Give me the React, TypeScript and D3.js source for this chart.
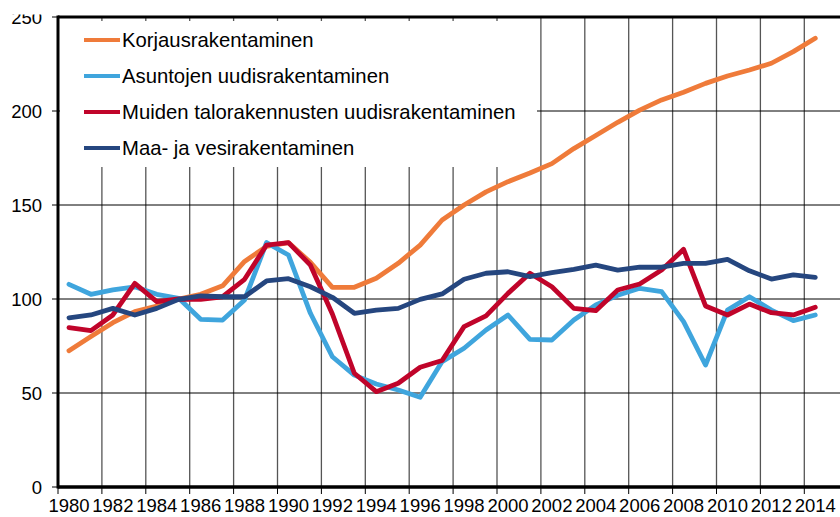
import { useEffect, useRef } from "react"
import * as d3 from "d3"

// vuodet 1980-2014
const years = d3.range(1980, 2015)

const korjaus = [72.5, 80, 87.4, 93.3, 96.3, 100, 102.5, 107, 120, 128, 130,
  119.5, 106.2, 106.2, 111, 119, 128.7, 142, 150, 157, 162.4,
  167, 172, 180, 187, 194, 200.5, 205.9, 210, 214.7, 218.6, 221.8, 225.4, 231.6, 238.7]

const asunnot = [107.8, 102.5, 104.8, 106.5, 102.5, 100.4, 89.2, 88.8, 99.5, 130, 123.4,
  92.4, 69.3, 59.5, 54.8, 51.6, 47.7, 66.7, 73.8, 83.5, 91.5,
  78.5, 78.2, 88.8, 96.8, 102, 105.7, 103.9, 88, 64.9, 94.1, 101.2, 94.1, 88.5, 91.5]

const muut = [84.8, 83.2, 91.5, 108.3, 98.6, 100, 99.8, 101.2, 110.5, 128.7, 130,
  118, 92, 60.5, 50.7, 55.2, 63.7, 67.3, 85.3, 91, 103,
  113.7, 106.5, 95, 93.8, 104.8, 108, 115.4, 126.4, 96.3, 91.5, 97.3, 92.7, 91.5, 95.6]

const maaVesi = [90, 91.5, 95, 91.5, 95, 99.8, 101.6, 101.2, 101.2, 109.6, 110.8,
  106.5, 100.9, 92.4, 94.1, 95, 99.8, 102.7, 110.5, 113.7, 114.5,
  111.9, 114, 115.8, 118, 115.4, 116.9, 116.9, 119, 119, 121.1, 115, 110.6, 112.8, 111.5]

const seriesNames = [
  "Korjausrakentaminen",
  "Asuntojen uudisrakentaminen",
  "Muiden talorakennusten uudisrakentaminen",
  "Maa- ja vesirakentaminen",
]
const seriesColors = ["#ef7b3a", "#3fa5dd", "#c0042a", "#25467f"]
const seriesValues = [korjaus, asunnot, muut, maaVesi]

const yTicks = [0, 50, 100, 150, 200, 250]
const xLabelYears = d3.range(1980, 2015, 2)

export default function App() {
  const svgRef = useRef<SVGSVGElement>(null)

  useEffect(() => {
    const svg = d3.select(svgRef.current)
    const width = 840
    const left = 58
    const top = 17
    const bottom = 487
    const font = "'Liberation Sans', Arial, sans-serif"

    svg.selectAll("*").remove()

    const x = d3.scaleLinear().domain([1980, 2016]).range([left, left + 36 * 21.95])
    const y = d3.scaleLinear().domain([0, 250]).range([bottom, top])

    // ruudukko
    svg.append("g")
      .selectAll("line")
      .data(d3.range(1982, 2017, 2))
      .join("line")
      .attr("x1", d => x(d)).attr("x2", d => x(d))
      .attr("y1", top).attr("y2", bottom)
      .attr("stroke", "#555")
      .attr("stroke-width", 1.3)

    svg.append("g")
      .selectAll("line")
      .data([50, 100, 150, 200])
      .join("line")
      .attr("x1", left).attr("x2", width)
      .attr("y1", d => y(d)).attr("y2", d => y(d))
      .attr("stroke", "#000")
      .attr("stroke-width", 1)

    // selitteen tausta
    svg.append("rect")
      .attr("x", left + 2).attr("y", top + 4)
      .attr("width", 477).attr("height", 146)
      .attr("fill", "#fff")

    // viivat
    const line = d3.line<number>()
      .x((_, i) => x(years[i] + 0.5))
      .y(d => y(d))

    seriesValues.forEach((vals, i) => {
      svg.append("path")
        .datum(vals)
        .attr("fill", "none")
        .attr("stroke", seriesColors[i])
        .attr("stroke-width", 4.8)
        .attr("stroke-linejoin", "round")
        .attr("stroke-linecap", "round")
        .attr("d", line)
    })

    // selite
    const legend = svg.append("g")
    seriesNames.forEach((name, i) => {
      const ly = 40 + i * 36
      legend.append("line")
        .attr("x1", 84).attr("x2", 120)
        .attr("y1", ly).attr("y2", ly)
        .attr("stroke", seriesColors[i])
        .attr("stroke-width", 4)
      legend.append("text")
        .attr("x", 122).attr("y", ly + 7)
        .attr("font-family", font)
        .attr("font-size", 20.3)
        .attr("fill", "#000")
        .text(name)
    })

    // akselit
    svg.append("g")
      .selectAll("line")
      .data(yTicks)
      .join("line")
      .attr("x1", left - 6).attr("x2", left)
      .attr("y1", d => y(d)).attr("y2", d => y(d))
      .attr("stroke", "#000")

    svg.append("g")
      .selectAll("text")
      .data(yTicks)
      .join("text")
      .attr("x", 42)
      .attr("y", d => y(d) + 6.5)
      .attr("text-anchor", "end")
      .attr("font-family", font)
      .attr("font-size", 18.5)
      .text(d => d)

    svg.append("g")
      .selectAll("line")
      .data(xLabelYears)
      .join("line")
      .attr("x1", d => x(d)).attr("x2", d => x(d))
      .attr("y1", bottom).attr("y2", bottom + 7)
      .attr("stroke", "#000")

    svg.append("g")
      .selectAll("text")
      .data(xLabelYears)
      .join("text")
      .attr("x", d => x(d + 0.5))
      .attr("y", 512)
      .attr("text-anchor", "middle")
      .attr("font-family", font)
      .attr("font-size", 18.5)
      .text(d => d)

    svg.append("line")
      .attr("x1", left).attr("x2", left)
      .attr("y1", top - 1.5).attr("y2", bottom + 1.5)
      .attr("stroke", "#000").attr("stroke-width", 3)
    svg.append("line")
      .attr("x1", left).attr("x2", width)
      .attr("y1", bottom).attr("y2", bottom)
      .attr("stroke", "#000").attr("stroke-width", 3.5)
    svg.append("line")
      .attr("x1", left).attr("x2", width)
      .attr("y1", top).attr("y2", top)
      .attr("stroke", "#000").attr("stroke-width", 3)

    // kuva on rajattu ylhäältä
    svg.append("rect")
      .attr("x", 0).attr("y", 0)
      .attr("width", left - 4).attr("height", 14.5)
      .attr("fill", "#fff")
  }, [])

  return (
    <svg
      ref={svgRef}
      width={840}
      height={517}
      style={{ position: "absolute", left: 0, top: 0, background: "#fff" }}
    />
  )
}
